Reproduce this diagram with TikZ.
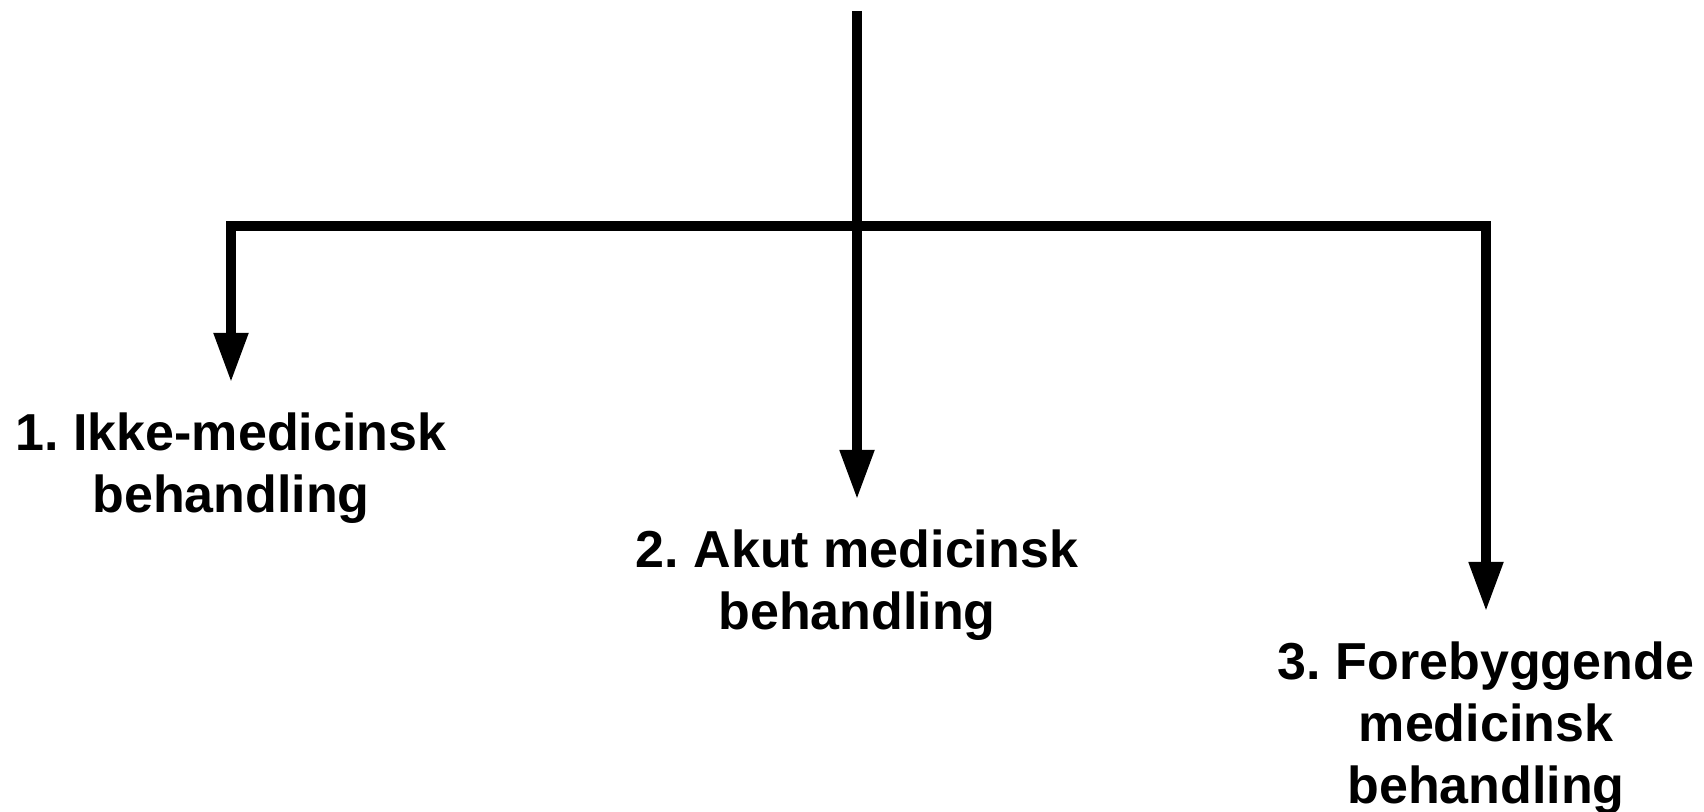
\documentclass[tikz,border=0pt]{standalone}
\usepackage{fontspec}
\setmainfont{Liberation Sans}
\usetikzlibrary{arrows.meta,positioning}
\frenchspacing

\begin{document}
\begin{tikzpicture}[x=0.5pt,y=-0.5pt,
    branch/.style={line width=5.3pt,line join=miter},
    tip/.style={-{Triangle[length=25pt,width=16pt]}},
    leaf/.style={font=\bfseries\fontsize{26}{31}\selectfont,align=center,
                 anchor=north,inner xsep=0pt,inner ysep=14.5pt}]
  \useasboundingbox (0,0) rectangle (1704,812);
  % trunk and branching point
  \coordinate (top) at (857,11);
  \coordinate (hub) at (857,226);
  % the three kinds of treatment
  \node[leaf] (ikke) at (231,383) {1. Ikke-medicinsk\\behandling};
  \node[leaf] (akut) at (857,500) {2. Akut medicinsk\\behandling};
  \node[leaf] (fore) at (1486,612) {3. Forebyggende\\medicinsk\\behandling};
  % connectors
  \draw[branch] (top) -- (hub);
  \draw[branch,tip] (hub) -| (ikke.north);
  \draw[branch,tip] (hub) -- (akut.north);
  \draw[branch,tip] (hub) -| (fore.north);
\end{tikzpicture}
\end{document}
